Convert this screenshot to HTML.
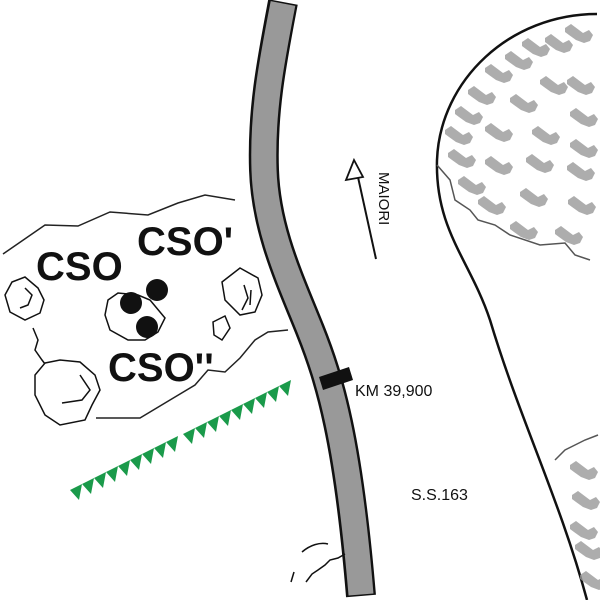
<!DOCTYPE html>
<html><head><style>body{margin:0;background:#fff}svg{display:block}</style></head><body>
<svg width="600" height="600" viewBox="0 0 600 600" xmlns="http://www.w3.org/2000/svg">
<defs>
<g id="h"><path d="M0,0 l6,-4 l4,3 l8,6 l6,-3 l4,5 l-3,6 l-6,2 l-8,-3 l-7,-5 l-4,-3z" fill="#999" opacity="0.8"/></g>
</defs>
<path d="M597,14 C510,14 440,80 437,160 C435,230 470,260 490,320 C520,420 560,500 587,600" fill="none" stroke="#111" stroke-width="2.5"/>
<path d="M437,165 L450,180 L455,200 L470,210 L478,220 L495,225 L510,235 L540,245 L565,243 L575,255 L590,260" fill="none" stroke="#555" stroke-width="1.5"/>
<g>
<use href="#h" x="565" y="28"/><use href="#h" x="545" y="38"/><use href="#h" x="522" y="42"/><use href="#h" x="505" y="55"/><use href="#h" x="485" y="68"/><use href="#h" x="468" y="90"/><use href="#h" x="455" y="110"/><use href="#h" x="445" y="130"/>
<use href="#h" x="540" y="80"/><use href="#h" x="567" y="80"/><use href="#h" x="510" y="98"/><use href="#h" x="570" y="112"/>
<use href="#h" x="485" y="127"/><use href="#h" x="532" y="130"/><use href="#h" x="570" y="143"/>
<use href="#h" x="448" y="153"/><use href="#h" x="485" y="160"/><use href="#h" x="526" y="158"/><use href="#h" x="567" y="166"/>
<use href="#h" x="458" y="180"/><use href="#h" x="520" y="192"/><use href="#h" x="568" y="200"/><use href="#h" x="478" y="200"/><use href="#h" x="510" y="225"/><use href="#h" x="555" y="230"/>
</g>
<path d="M555,460 L565,450 L575,445 L585,440 L598,435" fill="none" stroke="#555" stroke-width="1.5"/>
<use href="#h" x="570" y="465"/><use href="#h" x="572" y="495"/><use href="#h" x="570" y="525"/><use href="#h" x="575" y="545"/><use href="#h" x="580" y="575"/>
<!-- road -->
<path d="M283,2 C272,60 262,110 264,170 C266,230 290,280 310,330 C330,380 348,440 361,596" fill="none" stroke="#111" stroke-width="30"/>
<path d="M283,3.5 C272,60 262,110 264,170 C266,230 290,280 310,330 C330,380 348,440 361,594.5" fill="none" stroke="#999" stroke-width="25"/>
<path d="M319,377 L349,367 L353,380 L323,390 Z" fill="#111"/>
<line x1="376" y1="259" x2="356" y2="168" stroke="#111" stroke-width="2"/>
<path d="M346,180 L354,160 L363,177 Z" fill="#fff" stroke="#111" stroke-width="1.8"/>
<text transform="translate(379,172) rotate(90)" font-family="Liberation Sans,sans-serif" font-size="15" fill="#111">MAIORI</text>
<text x="355" y="396" font-family="Liberation Sans,sans-serif" font-size="16" fill="#111">KM 39,900</text>
<text x="411" y="500" font-family="Liberation Sans,sans-serif" font-size="16" fill="#111">S.S.163</text>
<path d="M3,254 L45,225 L78,226 L110,212 L148,215 L178,203 L205,195 L235,200" fill="none" stroke="#222" stroke-width="1.5"/>
<path d="M96,418 L140,418 L170,400 L195,385 L208,370 L225,372 L240,358 L255,340 L268,332 L288,330" fill="none" stroke="#222" stroke-width="1.5"/>
<g fill="none" stroke="#111" stroke-width="1.5">
<path d="M5,295 L12,282 L25,277 L38,288 L44,300 L40,313 L25,320 L10,312 Z"/>
<path d="M25,288 L32,295 L28,305 L20,308"/>
<path d="M33,328 L38,340 L35,350 L42,360 L45,364"/>
<path d="M45,363 L60,360 L80,362 L95,375 L100,390 L92,405 L85,420 L60,425 L45,415 L35,395 L35,375 Z"/>
<path d="M80,375 L90,390 L82,400 L62,403"/>
<path d="M108,300 L118,293 L138,295 L150,300 L165,318 L158,332 L145,340 L128,340 L110,330 L105,315 Z"/>
<path d="M222,282 L240,268 L258,278 L262,295 L255,312 L240,315 L225,300 Z"/>
<path d="M244,285 L248,298 L242,310 M251,290 L250,305"/>
<path d="M213,322 L225,316 L230,328 L222,340 L214,335 Z"/>
</g>
<circle cx="131" cy="303" r="11" fill="#111"/>
<circle cx="157" cy="290" r="11" fill="#111"/>
<circle cx="147" cy="327" r="11" fill="#111"/>
<g font-family="Liberation Sans,sans-serif" font-weight="bold" font-size="40" fill="#111">
<text x="36" y="280">CSO</text>
<text x="137" y="255">CSO'</text>
<text x="108" y="381">CSO''</text>
</g>
<g fill="#1a9a4a">
<path d="M70,490 l12,-6 l-3,16z"/><path d="M82,484 l12,-6 l-3,16z"/><path d="M94,478 l12,-6 l-3,16z"/><path d="M106,472 l12,-6 l-3,16z"/><path d="M118,466 l12,-6 l-3,16z"/><path d="M130,460 l12,-6 l-3,16z"/><path d="M142,454 l12,-6 l-3,16z"/><path d="M154,448 l12,-6 l-3,16z"/><path d="M166,442 l12,-6 l-3,16z"/>
<path d="M183,434 l12,-6 l-3,16z"/><path d="M195,428 l12,-6 l-3,16z"/><path d="M207,422 l12,-6 l-3,16z"/><path d="M219,416 l12,-6 l-3,16z"/><path d="M231,410 l12,-6 l-3,16z"/><path d="M243,404 l12,-6 l-3,16z"/><path d="M255,398 l12,-6 l-3,16z"/><path d="M267,392 l12,-6 l-3,16z"/><path d="M279,386 l12,-6 l-3,16z"/>
</g>
<g fill="none" stroke="#111" stroke-width="1.5">
<path d="M302,552 C310,545 320,542 328,544"/>
<path d="M306,582 L312,574 L318,570 L325,565 L330,560 L338,558 L345,554"/>
<path d="M291,582 L294,572"/>
</g>
</svg>
</body></html>
